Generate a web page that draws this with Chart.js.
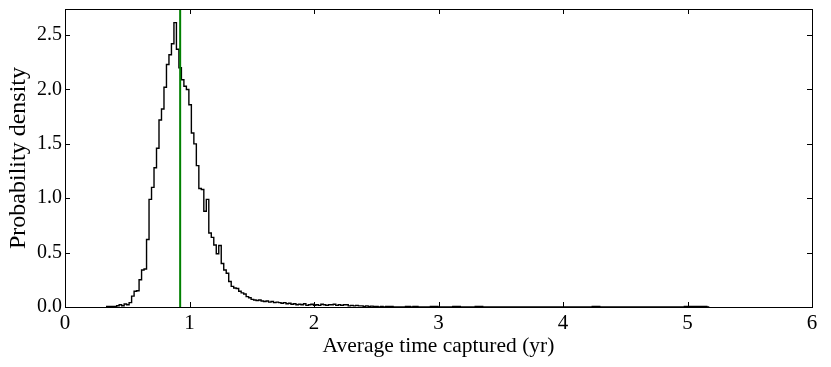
<!DOCTYPE html>
<html>
<head>
<meta charset="utf-8">
<script src="https://cdn.jsdelivr.net/npm/chart.js@4/dist/chart.umd.min.js"></script>
<style>
  html, body { margin: 0; padding: 0; background: #ffffff; }
  #wrap { width: 831px; height: 367px; }
</style>
</head>
<body>
<div id="wrap"><canvas id="c" width="831" height="367"></canvas></div>
<script>
// ---- data ----
const binStart = 0.335;      // left edge of first bin (yr)
const binWidth = 0.02;       // bin width (yr)
const density = [
  0.004,0.004,0.004,0.004,0.004,0.012,0.02,0.012,0.028,0.02,
  0.04,0.10,0.145,0.15,0.25,0.34,0.35,0.62,0.99,1.10,
  1.28,1.46,1.72,1.82,2.02,2.23,2.32,2.42,2.615,2.37,
  2.20,2.09,2.03,2.00,1.86,1.60,1.50,1.30,1.09,1.08,
  0.88,0.99,0.68,0.64,0.57,0.49,0.565,0.40,0.34,0.31,
  0.235,0.19,0.175,0.17,0.145,0.13,0.12,0.095,0.085,0.07,
  0.065,0.06,0.065,0.055,0.05,0.055,0.045,0.05,0.04,0.045,
  0.04,0.035,0.04,0.03,0.035,0.025,0.03,0.02,0.025,0.02,
  0.03,0.015,0.02,0.025,0.015,0.02,0.015,0.025,0.02,0.015,
  0.02,0.02,0.025,0.015,0.02,0.015,0.02,0.02,0.01,0.015,
  0.01,0.015,0.01,0.01,0.005,0.01,0.005,0.008,0.004,0.004,
  0,0.004,0,0.004,0.004,0.004,0,0,0,0,
  0,0.004,0.004,0,0.004,0.004,0,0,0,0,
  0,0.004,0.004,0.004,0,0,0,0,0,0,
  0.004,0.004,0.004,0,0,0,0,0,0,0.004,
  0.004,0.004,0,0,0,0,0,0,0,0,
  0,0,0,0,0,0,0,0,0,0,
  0,0,0,0,0,0,0,0,0,0,
  0,0,0,0,0,0,0,0,0,0,
  0,0,0,0,0,0,0.004,0.004,0.004,0,
  0,0,0,0,0,0,0,0,0,0,
  0,0,0,0,0,0,0,0,0,0,
  0,0,0,0,0,0,0,0,0,0,
  0,0,0,0.004,0.004,0.004,0.004,0.004,0.004,0.004,
  0.004,0.004
];
const markerX = 0.925;                 // green vertical line
const xTicks = [0, 1, 2, 3, 4, 5, 6];
const yTicks = [0, 0.5, 1.0, 1.5, 2.0, 2.5];
const xRange = [0, 6];
const yRange = [0, 2.74];
const xTitle = 'Average time captured (yr)';
const yTitle = 'Probability density';

// ---- build step outline (histtype="step") ----
const stepPts = [{x: binStart, y: 0}];
density.forEach((v, k) => stepPts.push({x: binStart + k * binWidth, y: v}));
stepPts.push({x: binStart + density.length * binWidth, y: 0});

const FONT = "'Liberation Serif', 'Times New Roman', serif";

const frameTicks = {
  id: 'frameTicks',
  afterDatasetsDraw(chart) {
    const {ctx, chartArea: a, scales} = chart;
    ctx.save();
    ctx.strokeStyle = '#000';
    ctx.lineWidth = 1;
    const L = 5;
    ctx.beginPath();
    xTicks.forEach(t => {
      const p = Math.round(scales.x.getPixelForValue(t)) + 0.5;
      ctx.moveTo(p, a.bottom); ctx.lineTo(p, a.bottom - L);
      ctx.moveTo(p, a.top); ctx.lineTo(p, a.top + L);
    });
    yTicks.forEach(t => {
      const p = Math.round(scales.y.getPixelForValue(t)) + 0.5;
      ctx.moveTo(a.left, p); ctx.lineTo(a.left + L, p);
      ctx.moveTo(a.right, p); ctx.lineTo(a.right - L, p);
    });
    ctx.stroke();
    ctx.strokeRect(Math.round(a.left) + 0.5, Math.round(a.top) + 0.5,
                   Math.round(a.right - a.left), Math.round(a.bottom - a.top));
    ctx.restore();
  }
};

new Chart(document.getElementById('c'), {
  type: 'line',
  data: {
    datasets: [
      {
        data: [{x: markerX, y: yRange[0]}, {x: markerX, y: yRange[1]}],
        borderColor: '#008000',
        borderWidth: 2,
        pointRadius: 0,
        fill: false
      },
      {
        data: stepPts,
        stepped: 'after',
        borderColor: '#000000',
        borderWidth: 1.4,
        pointRadius: 0,
        fill: false
      }
    ]
  },
  options: {
    responsive: false,
    animation: false,
    devicePixelRatio: 1,
    layout: { padding: { top: 9, right: 19, left: 0, bottom: 0 } },
    plugins: { legend: { display: false }, tooltip: { enabled: false } },
    scales: {
      x: {
        type: 'linear',
        min: xRange[0], max: xRange[1],
        afterBuildTicks: s => { s.ticks = xTicks.map(v => ({value: v})); },
        afterFit: s => { s.height = 60; s.paddingLeft = 0; s.paddingRight = 0; },
        grid: { display: false, drawTicks: false },
        border: { display: false },
        ticks: {
          color: '#000', padding: 4,
          font: { family: FONT, size: 21 },
          callback: v => String(v)
        },
        title: {
          display: true, text: xTitle, color: '#000',
          font: { family: FONT, size: 21.5 },
          padding: { top: 0, bottom: 8 }
        }
      },
      y: {
        type: 'linear',
        min: yRange[0], max: yRange[1],
        afterBuildTicks: s => { s.ticks = yTicks.map(v => ({value: v})); },
        afterFit: s => { s.width = 65; s.paddingTop = 0; s.paddingBottom = 0; },
        grid: { display: false, drawTicks: false },
        border: { display: false },
        ticks: {
          color: '#000', padding: 3,
          font: { family: FONT, size: 20 },
          callback: v => Number(v).toFixed(1)
        },
        title: {
          display: true, text: yTitle, color: '#000',
          font: { family: FONT, size: 24 },
          padding: { top: 4, bottom: 0 }
        }
      }
    }
  },
  plugins: [frameTicks]
});
</script>
</body>
</html>
